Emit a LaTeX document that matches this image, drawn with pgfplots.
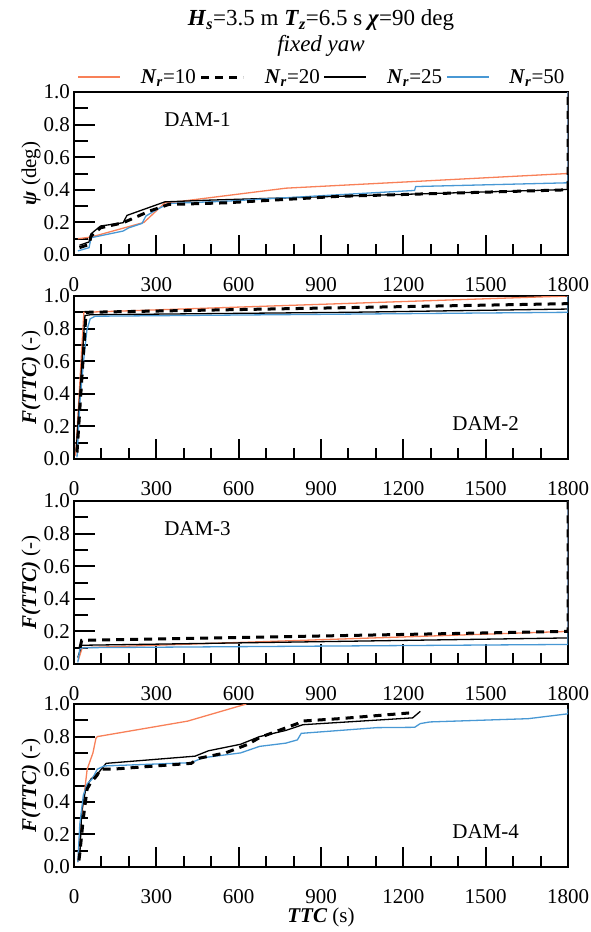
\documentclass[border=0pt]{standalone}
\usepackage{fontspec}
\setmainfont{Liberation Serif}
\usepackage{pgfplots}
\pgfplotsset{compat=1.18}
\definecolor{myorange}{RGB}{248,128,88}
\definecolor{myblue}{RGB}{72,152,212}
\newcommand{\bi}[1]{\textbf{\textit{#1}}}
\newcommand{\fs}{\fontsize{21pt}{25pt}\selectfont}
\newcommand{\ft}{\fontsize{23pt}{25pt}\selectfont}
\pgfplotsset{
 panel/.style={
  scale only axis, width=494pt, height=163pt,
  xmin=0,xmax=1800,ymin=0,ymax=1,
  xtick={0,300,600,900,1200,1500,1800},
  xticklabels={0,300,600,900,1200,1500,1800},
  ytick={0,0.2,0.4,0.6,0.8,1},
  yticklabels={0.0,0.2,0.4,0.6,0.8,1.0},
  minor x tick num=2, minor y tick num=1,
  tick pos=left, tick align=inside,
  every tick/.append style={line width=1.2pt, black},
  axis line style={line width=1.2pt},
  tick label style={font=\fs, inner sep=1pt},
  xticklabel style={yshift=-21pt},
  yticklabel style={xshift=-3pt},
  label style={font=\fs},
  ylabel style={at={(axis description cs:-0.087,0.5)}, anchor=center},
 },
 c10/.style={myorange, line width=1.3pt},
 c20/.style={black, line width=3pt, dash pattern=on 8pt off 6pt},
 c25/.style={black, line width=1.3pt},
 c50/.style={myblue, line width=1.3pt},
 tk/.style={black, line width=2pt},
}
% longer tick marks drawn as short data lines
\newcommand{\xt}[2]{\addplot[tk, forget plot] coordinates {(#1,0) (#1,#2)};}
\newcommand{\yt}[2]{\addplot[tk, forget plot] coordinates {(0,#1) (#2,#1)};}
\newcommand{\myticks}{%
\xt{300}{0.123}\xt{600}{0.123}\xt{900}{0.123}\xt{1200}{0.123}\xt{1500}{0.123}%
\xt{100}{0.067}\xt{200}{0.067}\xt{400}{0.067}\xt{500}{0.067}\xt{700}{0.067}\xt{800}{0.067}%
\xt{1000}{0.067}\xt{1100}{0.067}\xt{1300}{0.067}\xt{1400}{0.067}\xt{1600}{0.067}\xt{1700}{0.067}%
\yt{0.2}{77}\yt{0.4}{77}\yt{0.6}{77}\yt{0.8}{77}%
\yt{0.1}{51}\yt{0.3}{51}\yt{0.5}{51}\yt{0.7}{51}\yt{0.9}{51}%
}
\begin{document}
\begin{tikzpicture}
\useasboundingbox (0,0) rectangle (590pt,-932pt);
% Panel 1
\begin{axis}[panel, at={(74pt,-92pt)}, anchor=north west,
  ylabel={\bi{ψ} (deg)},
  legend style={at={(0.5,1.092)}, anchor=center, draw=none, fill=none, font=\fs,
    legend columns=4, nodes={inner sep=0pt},
    /tikz/every odd column/.style={column sep=20pt},
    /tikz/every even column/.style={column sep=4pt}},
  legend cell align=left,
  legend image code/.code={\draw[#1] (0pt,0pt) -- (42pt,0pt);},
  extra description/.code={
    \node[font=\ft, inner sep=0pt] at (0.5,1.442) {\bi{H}\textsubscript{\bi{s}}=3.5 m \bi{T}\textsubscript{\bi{z}}=6.5 s \bi{χ}=90 deg};
    \node[font=\ft\itshape, inner sep=0pt] at (0.5,1.282) {fixed yaw};
  }]
\addlegendimage{c10}\addlegendentry{\bi{N}\textsubscript{\bi{r}}=10}
\addlegendimage{c20}\addlegendentry{\bi{N}\textsubscript{\bi{r}}=20}
\addlegendimage{c25}\addlegendentry{\bi{N}\textsubscript{\bi{r}}=25}
\addlegendimage{c50}\addlegendentry{\bi{N}\textsubscript{\bi{r}}=50}
\myticks
\addplot[c10, forget plot] coordinates {(14,0.10) (62,0.11) (255,0.20) (331,0.32) (345,0.32) (772,0.41) (1800,0.50) (1800,1.0)};
\addplot[c25, forget plot] coordinates {(20,0.06) (55,0.08) (62,0.13) (97,0.178) (179,0.198) (193,0.243) (331,0.326) (500,0.337) (1800,0.402)};
\addplot[c50, forget plot] coordinates {(14,0.025) (55,0.045) (62,0.106) (179,0.147) (200,0.167) (248,0.194) (262,0.239) (303,0.28) (345,0.316) (552,0.33) (966,0.37) (1241,0.396) (1245,0.42) (1800,0.443) (1800,1.0)};
\addplot[c20, forget plot] coordinates {(20,0.045) (55,0.065) (62,0.116) (97,0.167) (179,0.198) (276,0.27) (345,0.31) (552,0.32) (966,0.36) (1800,0.40) (1800,1.0)};
\node[font=\fs] at (axis cs:450,0.83) {DAM-1};
\end{axis}
% Panel 2
\begin{axis}[panel, at={(74pt,-296pt)}, anchor=north west,
  ylabel={\bi{F(TTC)} (-)}]
\myticks
\addplot[c10] coordinates {(6,0.02) (36,0.90) (1800,1.0)};
\addplot[c25] coordinates {(8,0.05) (40,0.88) (60,0.885) (1000,0.90) (1800,0.92)};
\addplot[c50] coordinates {(11,0.01) (22,0.36) (36,0.62) (47,0.79) (59,0.86) (77,0.876) (1800,0.90) (1800,1.0)};
\addplot[c20] coordinates {(11,0.04) (28,0.48) (44,0.90) (1800,0.953)};
\node[font=\fs] at (axis cs:1500,0.22) {DAM-2};
\end{axis}
% Panel 3
\begin{axis}[panel, at={(74pt,-501pt)}, anchor=north west,
  ylabel={\bi{F(TTC)} (-)}]
\myticks
\addplot[c10] coordinates {(15,0.02) (30,0.10) (1800,0.20) (1800,1.0)};
\addplot[c25] coordinates {(14,0.04) (28,0.115) (1800,0.16)};
\addplot[c50] coordinates {(14,0.01) (21,0.09) (30,0.10) (1800,0.12) (1800,1.0)};
\addplot[c20] coordinates {(22,0.10) (28,0.145) (1800,0.20) (1800,1.0)};
\node[font=\fs] at (axis cs:450,0.83) {DAM-3};
\end{axis}
% Panel 4
\begin{axis}[panel, at={(74pt,-704pt)}, anchor=north west,
  ylabel={\bi{F(TTC)} (-)},
  xlabel={\bi{TTC} (s)},
  xlabel style={at={(axis description cs:0.5,-0.307)}, anchor=center}]
\myticks
\addplot[c10] coordinates {(14,0.03) (21,0.2) (34,0.40) (48,0.60) (69,0.70) (80,0.79) (85,0.80) (414,0.895) (628,1.0)};
\addplot[c25] coordinates {(21,0.06) (28,0.34) (44,0.49) (62,0.54) (90,0.58) (117,0.636) (441,0.68) (490,0.713) (607,0.753) (676,0.80) (772,0.838) (834,0.873) (1234,0.915) (1262,0.955)};
\addplot[c50] coordinates {(14,0.03) (21,0.26) (34,0.44) (48,0.51) (66,0.54) (85,0.60) (110,0.62) (427,0.64) (469,0.67) (607,0.70) (676,0.74) (772,0.76) (814,0.78) (828,0.82) (1103,0.855) (1241,0.857) (1262,0.88) (1297,0.89) (1655,0.91) (1800,0.94) (1800,0.97)};
\addplot[c20] coordinates {(18,0.04) (21,0.08) (34,0.30) (48,0.48) (62,0.52) (83,0.56) (97,0.60) (138,0.60) (427,0.636) (455,0.667) (552,0.70) (634,0.753) (676,0.794) (814,0.88) (828,0.895) (966,0.91) (1221,0.945)};
\node[font=\fs] at (axis cs:1500,0.22) {DAM-4};
\end{axis}
\end{tikzpicture}
\end{document}
